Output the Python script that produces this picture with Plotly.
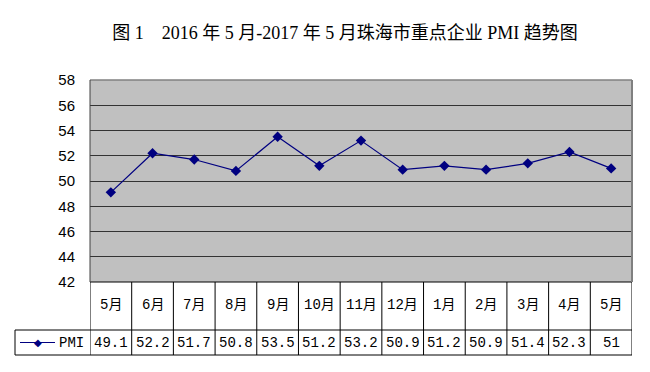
import plotly.graph_objects as go

months = ["5月", "6月", "7月", "8月", "9月", "10月", "11月", "12月", "1月", "2月", "3月", "4月", "5月"]
pmi = [49.1, 52.2, 51.7, 50.8, 53.5, 51.2, 53.2, 50.9, 51.2, 50.9, 51.4, 52.3, 51]
pmi_labels = ["49.1", "52.2", "51.7", "50.8", "53.5", "51.2", "53.2", "50.9", "51.2", "50.9", "51.4", "52.3", "51"]
y_ticks = [42, 44, 46, 48, 50, 52, 54, 56, 58]
series_name = "PMI"
title = "图 1　2016 年 5 月-2017 年 5 月珠海市重点企业 PMI 趋势图"

OFF = 8  # page body margin
W, H = 650 - OFF, 372 - OFF
L, R, T, B = 90 - OFF, 632 - OFF, 80 - OFF, 282 - OFF
ph = B - T


def py(pix):
    return (B - (pix - OFF)) / ph


def px(pix):
    return ((pix - OFF) - L) / (R - L)


x = list(range(len(months)))

fig = go.Figure()
fig.add_trace(go.Scatter(
    x=x, y=pmi, mode="lines+markers", name=series_name,
    line=dict(color="#000080", width=1.2),
    marker=dict(symbol="diamond", size=8, color="#000080"),
    showlegend=False, hoverinfo="skip"))

shapes = []
annotations = []
row1_bot, row2_bot = 330, 355
font_tab = dict(family="Liberation Mono, Noto Sans CJK SC", size=14, color="black")


def note(xref, xv, yv, text, font):
    annotations.append(dict(xref=xref, yref="paper", x=xv, y=yv, text=text,
                            showarrow=False, xanchor="center", yanchor="middle",
                            font=font))


shapes.append(dict(type="line", xref="paper", yref="paper", x0=0, x1=1, y0=0, y1=0,
                   line=dict(color="black", width=1)))
shapes.append(dict(type="line", xref="paper", yref="paper", x0=px(15), x1=1,
                   y0=py(row1_bot), y1=py(row1_bot), line=dict(color="black", width=1)))
shapes.append(dict(type="line", xref="paper", yref="paper", x0=px(15), x1=1,
                   y0=py(row2_bot), y1=py(row2_bot), line=dict(color="black", width=1)))
shapes.append(dict(type="line", xref="paper", yref="paper", x0=px(15), x1=px(15),
                   y0=py(row1_bot), y1=py(row2_bot), line=dict(color="black", width=1)))
for i in range(len(months) + 1):
    shapes.append(dict(type="line", xref="x", yref="paper", x0=i - 0.5, x1=i - 0.5,
                       y0=0, y1=py(row2_bot), line=dict(color="black", width=1)))

ly = py((row1_bot + row2_bot) / 2)
shapes.append(dict(type="line", xref="paper", yref="paper", x0=px(20), x1=px(55),
                   y0=ly, y1=ly, line=dict(color="#000080", width=1.2)))
note("paper", px(37.5), ly, "◆", dict(color="#000080", size=10, family="DejaVu Sans"))
note("paper", px(71), ly, series_name, font_tab)

for i, (m, v) in enumerate(zip(months, pmi_labels)):
    note("x", i, py(305), m, font_tab)
    note("x", i, ly, v, font_tab)

shapes.append(dict(type="line", xref="paper", yref="paper", x0=0, x1=1, y0=1, y1=1,
                   line=dict(color="#808080", width=1.5)))
shapes.append(dict(type="line", xref="paper", yref="paper", x0=1, x1=1, y0=0, y1=1,
                   line=dict(color="#808080", width=2)))
shapes.append(dict(type="line", xref="paper", yref="paper", x0=0, x1=0, y0=0, y1=1,
                   line=dict(color="#404040", width=1)))

fig.update_layout(
    width=W, height=H,
    margin=dict(l=L, r=W - R, t=T, b=H - B),
    paper_bgcolor="white", plot_bgcolor="#C0C0C0",
    title=dict(text=title, x=(345 - OFF) / W, xanchor="center", y=1 - (33 - OFF) / H,
               yanchor="middle",
               font=dict(family="Liberation Serif, Noto Sans CJK SC", size=18, color="black")),
    xaxis=dict(range=[-0.5, len(months) - 0.5], showticklabels=False, showgrid=False,
               zeroline=False, showline=False, fixedrange=True),
    yaxis=dict(range=[42, 58], tickvals=y_ticks, showgrid=True, gridcolor="#333333",
               gridwidth=1, zeroline=False, showline=False, ticklabelstandoff=14,
               tickfont=dict(family="Liberation Sans, Arial", size=15, color="black")),
    shapes=shapes, annotations=annotations,
)

fig.write_html("out.html")
